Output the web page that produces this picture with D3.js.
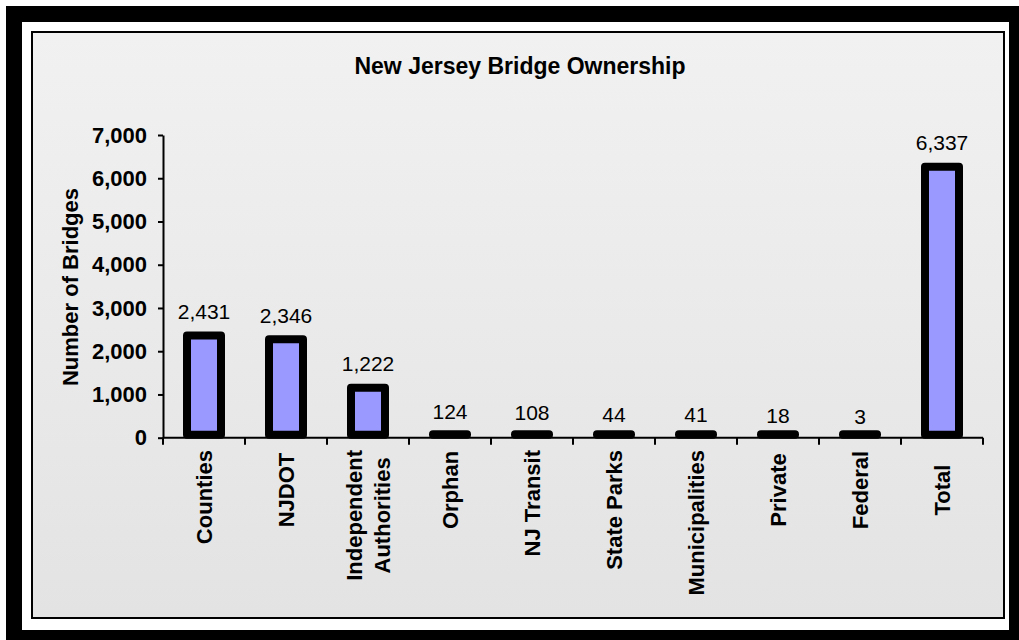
<!DOCTYPE html>
<html>
<head>
<meta charset="utf-8">
<script src="https://cdn.jsdelivr.net/npm/d3@7"></script>
<style>
	html, body { margin: 0; background: #000; }
</style>
</head>
<body>
<div id="chart"></div>
<script>
const owners = ["Counties", "NJDOT", "Independent\nAuthorities", "Orphan", "NJ Transit", "State Parks", "Municipalities", "Private", "Federal", "Total"];
const bridges = [2431, 2346, 1222, 124, 108, 44, 41, 18, 3, 6337];
const yTicks = [0, 1000, 2000, 3000, 4000, 5000, 6000, 7000];
const chartTitle = "New Jersey Bridge Ownership";
const yTitle = "Number of Bridges";

function makeChart() {
	const width = 1019;
	const height = 640;
	const font = "'Liberation Sans', Arial, sans-serif";

	const svg = d3.create("svg")
		.attr("width", width)
		.attr("height", height)
		.style("display", "block")
		.style("font-family", font);

	const grad = svg.append("defs").append("linearGradient")
		.attr("id", "bg")
		.attr("x1", 0).attr("y1", 0)
		.attr("x2", 0).attr("y2", 1);
	grad.append("stop").attr("offset", "0%").attr("stop-color", "#f1f1f1");
	grad.append("stop").attr("offset", "100%").attr("stop-color", "#e3e3e3");

	// white strip top/left, black frame, white mat, chart area
	svg.append("rect").attr("width", width).attr("height", height).attr("fill", "#fff");
	svg.append("rect").attr("x", 6).attr("y", 6).attr("width", width).attr("height", height).attr("fill", "#000");
	svg.append("rect").attr("x", 22).attr("y", 22).attr("width", 987).attr("height", 608).attr("fill", "#fff");
	svg.append("rect").attr("x", 32).attr("y", 32).attr("width", 972).attr("height", 586)
		.attr("fill", "url(#bg)")
		.attr("stroke", "#000")
		.attr("stroke-width", 2);

	const x = d3.scaleBand().domain(owners).range([163, 983]);
	const y = d3.scaleLinear().domain([0, 7000]).range([437.7, 135]);
	const cx = d => x(d) + x.bandwidth() / 2;
	const data = owners.map((o, i) => ({ name: o, value: bridges[i] }));

	// title
	svg.append("text")
		.attr("x", 520)
		.attr("y", 74)
		.attr("text-anchor", "middle")
		.style("font-size", "23px")
		.style("font-weight", "bold")
		.text(chartTitle);

	// y axis title
	svg.append("text")
		.attr("transform", "translate(78,287) rotate(-90)")
		.attr("text-anchor", "middle")
		.style("font-size", "22px")
		.style("font-weight", "bold")
		.text(yTitle);

	// bars, thick black outline with round joins
	svg.append("g")
		.selectAll("rect")
		.data(data)
		.join("rect")
			.attr("x", d => cx(d.name) - 17)
			.attr("width", 34)
			.attr("y", d => Math.min(y(d.value) + 3, y(0) - 3.5))
			.attr("height", d => Math.max(0.5, y(0) - 3 - (y(d.value) + 3)))
			.attr("fill", "#9999ff")
			.attr("stroke", "#000")
			.attr("stroke-width", 8)
			.attr("stroke-linejoin", "round");

	// value labels
	svg.append("g")
		.attr("text-anchor", "middle")
		.style("font-size", "21px")
		.selectAll("text")
		.data(data)
		.join("text")
			.attr("x", d => cx(d.name))
			.attr("y", d => y(d.value) - 13.5)
			.text(d => d3.format(",")(d.value));

	// y axis
	const yAxis = svg.append("g")
		.attr("transform", "translate(163,0)")
		.call(d3.axisLeft(y)
			.tickValues(yTicks)
			.tickFormat(d3.format(","))
			.tickSize(5)
			.tickSizeOuter(0)
			.tickPadding(11));
	yAxis.select(".domain").attr("stroke-width", 2);
	yAxis.selectAll(".tick line").attr("stroke-width", 2);
	yAxis.selectAll(".tick text")
		.attr("fill", "#000")
		.style("font-family", font)
		.style("font-size", "22px")
		.style("font-weight", "bold");

	// x axis line and ticks at category boundaries
	const xAxis = svg.append("g");
	const bounds = owners.map(o => x(o)).concat([x.range()[1]]);
	xAxis.append("line")
		.attr("x1", x.range()[0]).attr("x2", x.range()[1])
		.attr("y1", y(0)).attr("y2", y(0))
		.attr("stroke", "#000")
		.attr("stroke-width", 2);
	xAxis.selectAll(".btick")
		.data(bounds)
		.join("line")
			.attr("class", "btick")
			.attr("x1", d => d).attr("x2", d => d)
			.attr("y1", y(0)).attr("y2", y(0) + 7)
			.attr("stroke", "#000")
			.attr("stroke-width", 2);

	// rotated category labels: block centred at 490, pushed down so it starts at 450
	const lineH = 28.6;
	const labels = xAxis.selectAll(".xlab")
		.data(owners)
		.join("text")
			.attr("class", "xlab")
			.attr("text-anchor", "middle")
			.style("font-size", "22px")
			.style("font-weight", "bold");
	labels.each(function(d) {
		const lines = d.split("\n");
		const t = d3.select(this);
		lines.forEach((ln, i) => {
			t.append("tspan")
				.attr("x", 0)
				.attr("y", 8 + (i - (lines.length - 1) / 2) * lineH)
				.text(ln);
		});
	});

	d3.select("#chart").node().appendChild(svg.node());

	labels.attr("transform", function(d) {
		const len = d3.max(d3.select(this).selectAll("tspan").nodes(), n => n.getComputedTextLength());
		const mid = Math.max(490, 450 + len / 2);
		return `translate(${cx(d)},${mid}) rotate(-90)`;
	});
}

makeChart();
</script>
</body>
</html>
